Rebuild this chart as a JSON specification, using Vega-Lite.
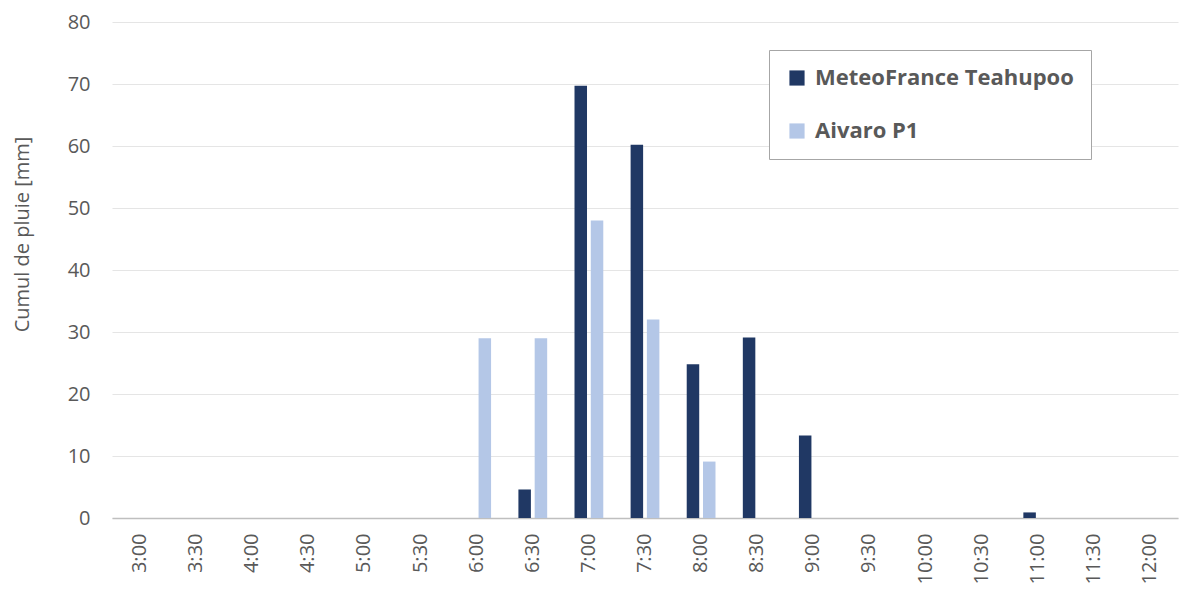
{
  "$schema": "https://vega.github.io/schema/vega-lite/v6.json",
  "autosize": {"type": "none"},
  "width": 1066,
  "height": 496,
  "padding": {"left": 112, "top": 22, "right": 2, "bottom": 73},
  "background": "white",
  "config": {
    "font": "Open Sans",
    "view": {"stroke": null}
  },
  "data": {
    "values": [
      {"heure": "3:00", "station": "MeteoFrance Teahupoo", "pluie": 0},
      {"heure": "3:00", "station": "Aivaro P1", "pluie": 0},
      {"heure": "3:30", "station": "MeteoFrance Teahupoo", "pluie": 0},
      {"heure": "3:30", "station": "Aivaro P1", "pluie": 0},
      {"heure": "4:00", "station": "MeteoFrance Teahupoo", "pluie": 0},
      {"heure": "4:00", "station": "Aivaro P1", "pluie": 0},
      {"heure": "4:30", "station": "MeteoFrance Teahupoo", "pluie": 0},
      {"heure": "4:30", "station": "Aivaro P1", "pluie": 0},
      {"heure": "5:00", "station": "MeteoFrance Teahupoo", "pluie": 0},
      {"heure": "5:00", "station": "Aivaro P1", "pluie": 0},
      {"heure": "5:30", "station": "MeteoFrance Teahupoo", "pluie": 0},
      {"heure": "5:30", "station": "Aivaro P1", "pluie": 0},
      {"heure": "6:00", "station": "MeteoFrance Teahupoo", "pluie": 0},
      {"heure": "6:00", "station": "Aivaro P1", "pluie": 29.0},
      {"heure": "6:30", "station": "MeteoFrance Teahupoo", "pluie": 4.6},
      {"heure": "6:30", "station": "Aivaro P1", "pluie": 29.0},
      {"heure": "7:00", "station": "MeteoFrance Teahupoo", "pluie": 69.7},
      {"heure": "7:00", "station": "Aivaro P1", "pluie": 48.0},
      {"heure": "7:30", "station": "MeteoFrance Teahupoo", "pluie": 60.2},
      {"heure": "7:30", "station": "Aivaro P1", "pluie": 32.0},
      {"heure": "8:00", "station": "MeteoFrance Teahupoo", "pluie": 24.8},
      {"heure": "8:00", "station": "Aivaro P1", "pluie": 9.1},
      {"heure": "8:30", "station": "MeteoFrance Teahupoo", "pluie": 29.1},
      {"heure": "8:30", "station": "Aivaro P1", "pluie": 0},
      {"heure": "9:00", "station": "MeteoFrance Teahupoo", "pluie": 13.3},
      {"heure": "9:00", "station": "Aivaro P1", "pluie": 0},
      {"heure": "9:30", "station": "MeteoFrance Teahupoo", "pluie": 0},
      {"heure": "9:30", "station": "Aivaro P1", "pluie": 0},
      {"heure": "10:00", "station": "MeteoFrance Teahupoo", "pluie": 0},
      {"heure": "10:00", "station": "Aivaro P1", "pluie": 0},
      {"heure": "10:30", "station": "MeteoFrance Teahupoo", "pluie": 0},
      {"heure": "10:30", "station": "Aivaro P1", "pluie": 0},
      {"heure": "11:00", "station": "MeteoFrance Teahupoo", "pluie": 0.9},
      {"heure": "11:00", "station": "Aivaro P1", "pluie": 0},
      {"heure": "11:30", "station": "MeteoFrance Teahupoo", "pluie": 0},
      {"heure": "11:30", "station": "Aivaro P1", "pluie": 0},
      {"heure": "12:00", "station": "MeteoFrance Teahupoo", "pluie": 0},
      {"heure": "12:00", "station": "Aivaro P1", "pluie": 0}
    ]
  },
  "mark": {"type": "bar", "size": 12.5},
  "encoding": {
    "x": {
      "field": "heure",
      "type": "nominal",
      "sort": null,
      "scale": {"paddingInner": 0.42, "paddingOuter": 0.21},
      "axis": {
        "title": null,
        "labelAngle": -90,
        "labelAlign": "right",
        "labelBaseline": "middle",
        "labelFontSize": 20,
        "labelColor": "#595959",
        "labelPadding": 15,
        "ticks": false,
        "domainColor": "#BFBFBF",
        "domainWidth": 1.5
      }
    },
    "xOffset": {
      "field": "station",
      "type": "nominal",
      "sort": ["MeteoFrance Teahupoo", "Aivaro P1"]
    },
    "y": {
      "field": "pluie",
      "type": "quantitative",
      "scale": {"domain": [0, 80]},
      "axis": {
        "title": "Cumul de pluie [mm]",
        "titleFontSize": 20,
        "titleFontWeight": "normal",
        "titleColor": "#595959",
        "titleX": -80,
        "titleY": 212,
        "titleBaseline": "bottom",
        "values": [0, 10, 20, 30, 40, 50, 60, 70, 80],
        "labelFontSize": 20,
        "labelColor": "#595959",
        "labelPadding": 22,
        "ticks": false,
        "domain": false,
        "gridColor": "#E5E5E5",
        "gridWidth": 1.2
      }
    },
    "color": {
      "field": "station",
      "type": "nominal",
      "sort": ["MeteoFrance Teahupoo", "Aivaro P1"],
      "scale": {
        "domain": ["MeteoFrance Teahupoo", "Aivaro P1"],
        "range": ["#203864", "#B4C7E7"]
      },
      "legend": {
        "title": null,
        "orient": "none",
        "legendX": 657,
        "legendY": 28,
        "direction": "vertical",
        "padding": 17,
        "strokeColor": "#A6A6A6",
        "fillColor": "white",
        "symbolType": "square",
        "symbolSize": 230,
        "symbolStrokeWidth": 0,
        "labelFontSize": 22,
        "labelFontWeight": "bold",
        "labelColor": "#595959",
        "labelOffset": 7,
        "rowPadding": 31,
        "labelLimit": 400
      }
    }
  }
}
